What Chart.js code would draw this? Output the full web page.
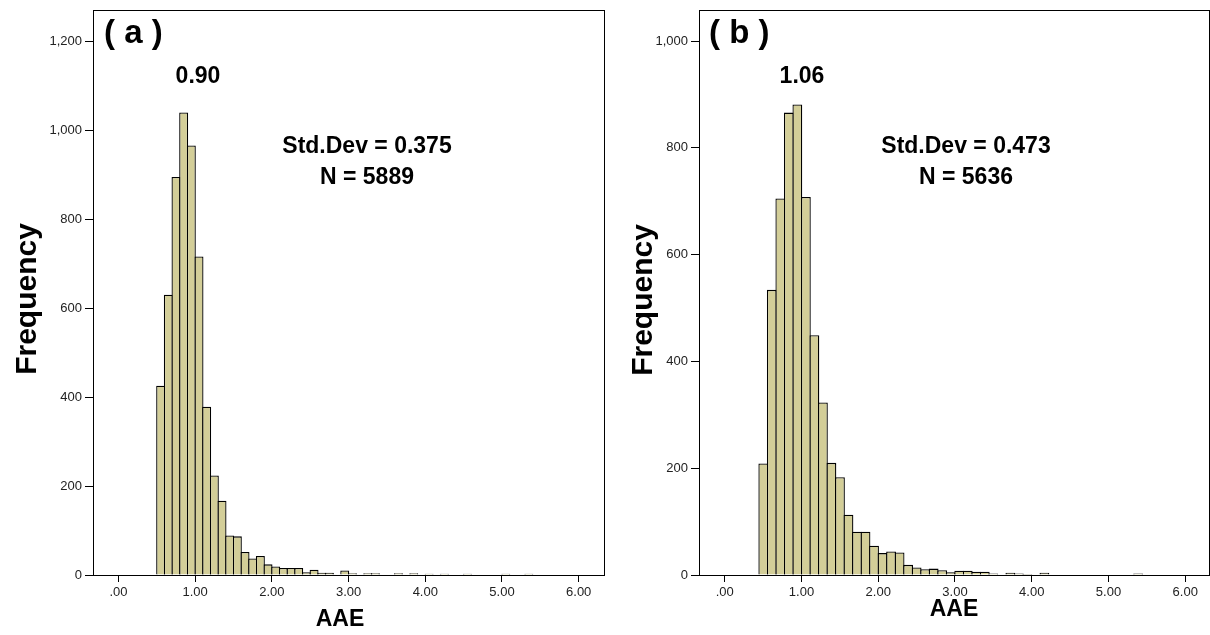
<!DOCTYPE html>
<html><head><meta charset="utf-8">
<script src="https://cdn.jsdelivr.net/npm/chart.js@4/dist/chart.umd.min.js"></script>
<style>
html,body{margin:0;padding:0;background:#fff;overflow:hidden}
.wrap{position:absolute;top:0;width:605px;height:635px}
#wa{left:0}#wb{left:605px}
</style></head><body>
<div class="wrap" id="wa"><canvas id="ca" width="605" height="635"></canvas></div>
<div class="wrap" id="wb"><canvas id="cb" width="605" height="635"></canvas></div>
<script>
// ---- data ----
const xTickValues = [0, 1, 2, 3, 4, 5, 6];
const xTickLabels = ['.00', '1.00', '2.00', '3.00', '4.00', '5.00', '6.00'];

const yTicksA = [0, 200, 400, 600, 800, 1000, 1200];
const yLabelsA = ['0', '200', '400', '600', '800', '1,000', '1,200'];
const yTicksB = [0, 200, 400, 600, 800, 1000];
const yLabelsB = ['0', '200', '400', '600', '800', '1,000'];

// histogram (a): bins of 0.1 starting at 0.50
const binStartA = 0.5, binWidthA = 0.1;
const freqA = [426, 631, 896, 1041, 967, 717, 379, 224, 167, 89,
               87, 52, 37, 43, 24, 19, 16, 16, 16, 6,
               12, 5, 5, 1, 10, 4, 1, 4, 4, 1,
               0, 4, 1, 4, 0, 3, 0, 3, 0, 0,
               3, 0, 0, 0, 0, 3, 0, 0, 3];
// histogram (b): bins of ~0.111 starting at 0.447
const binStartB = 0.447, binWidthB = 0.111;
const freqB = [209, 534, 705, 866, 881, 708, 449, 323, 210, 183,
               113, 81, 81, 55, 41, 44, 42, 19, 14, 11,
               12, 9, 5, 8, 8, 6, 6, 3, 0, 4,
               3, 2, 0, 4, 1, 1, 0, 0, 1, 0,
               0, 1, 0, 0, 3];

const panelLabels = ['( a )', '( b )'];
const meanLabels = ['0.90', '1.06'];
const sdLabels = ['Std.Dev = 0.375', 'Std.Dev = 0.473'];
const nLabels = ['N = 5889', 'N = 5636'];
const yTitle = 'Frequency';
const xTitle = 'AAE';

// ---- style ----
const FONT = "'Liberation Sans', Arial, Helvetica, sans-serif";
const BAR_FILL = 'rgb(211,206,152)';
const BAR_EDGE = '#000';

const framePlugin = {
  id: 'frame',
  afterDraw(chart) {
    const a = chart.chartArea, ctx = chart.ctx;
    const l = Math.round(a.left - 0.5) + 0.5, r = Math.round(a.right - 0.5) + 0.5;
    const t = Math.round(a.top - 0.5) + 0.5, b = Math.round(a.bottom - 0.5) + 0.5;
    ctx.save();
    ctx.strokeStyle = '#000'; ctx.lineWidth = 1;
    ctx.strokeRect(l, t, r - l, b - t);
    ctx.restore();
  }
};

const textPlugin = {
  id: 'panelText',
  afterDraw(chart, args, o) {
    const ctx = chart.ctx;
    ctx.save();
    ctx.fillStyle = '#000';
    ctx.textBaseline = 'middle';
    ctx.font = 'bold 33px ' + FONT;
    ctx.textAlign = 'left';
    ctx.fillText(o.panel, o.panelPos[0], o.panelPos[1]);
    ctx.font = 'bold 23px ' + FONT;
    ctx.textAlign = 'center';
    ctx.fillText(o.mean, o.meanPos[0], o.meanPos[1]);
    ctx.fillText(o.sd, o.sdPos[0], o.sdPos[1]);
    ctx.fillText(o.n, o.nPos[0], o.nPos[1]);
    ctx.font = 'bold 23px ' + FONT;
    ctx.fillText(xTitle, o.xTitlePos[0], o.xTitlePos[1]);
    ctx.font = 'bold 30px ' + FONT;
    ctx.translate(o.yTitlePos[0], o.yTitlePos[1]);
    ctx.rotate(-Math.PI / 2);
    ctx.fillText(yTitle, 0, 0);
    ctx.restore();
  }
};

function makeChart(id, cfg) {
  const areaRight = 604;
  const binPx = cfg.binWidth * (areaRight - cfg.areaLeft) / (cfg.xMax - cfg.xMin);
  const pts = cfg.freq.map((v, i) => ({ x: cfg.binStart + cfg.binWidth * (i + 0.5), y: v }));
  return new Chart(document.getElementById(id), {
    type: 'bar',
    data: {
      datasets: [{
        data: pts,
        backgroundColor: BAR_FILL,
        borderColor: BAR_EDGE,
        borderWidth: 1.3,
        barPercentage: (binPx + 1.3) / binPx,
        categoryPercentage: 1,
        grouped: false
      }]
    },
    options: {
      responsive: false,
      animation: false,
      devicePixelRatio: 1,
      layout: { padding: { top: 9, right: 1, left: 0, bottom: 0 } },
      plugins: { legend: { display: false }, tooltip: { enabled: false }, panelText: cfg.text },
      scales: {
        x: {
          type: 'linear', min: cfg.xMin, max: cfg.xMax, offset: false,
          afterFit: s => { s.height = 60; },
          afterBuildTicks: s => { s.ticks = xTickValues.map(v => ({ value: v })); },
          ticks: {
            callback: (v, i) => xTickLabels[i],
            font: { family: FONT, size: 13 }, color: '#222',
            padding: 3, maxRotation: 0, autoSkip: false
          },
          grid: { offset: false, drawOnChartArea: false, drawTicks: true, tickLength: 7, color: '#000', lineWidth: 1 },
          border: { display: true, color: '#000', width: 1 }
        },
        y: {
          type: 'linear', min: 0, max: cfg.yMax,
          afterFit: s => { s.width = cfg.areaLeft; },
          afterBuildTicks: s => { s.ticks = cfg.yTicks.map(v => ({ value: v })); },
          ticks: {
            callback: (v, i) => cfg.yLabels[i],
            font: { family: FONT, size: 13 }, color: '#222',
            padding: 3, autoSkip: false
          },
          grid: { drawOnChartArea: false, drawTicks: true, tickLength: 8, color: '#000', lineWidth: 1 },
          border: { display: true, color: '#000', width: 1 }
        }
      }
    },
    plugins: [framePlugin, textPlugin]
  });
}

makeChart('ca', {
  freq: freqA, binStart: binStartA, binWidth: binWidthA,
  yTicks: yTicksA, yLabels: yLabelsA, yMax: 1270,
  xMin: -0.332, xMax: 6.33, areaLeft: 93,
  text: {
    panel: panelLabels[0], panelPos: [104, 34],
    mean: meanLabels[0], meanPos: [198, 77],
    sd: sdLabels[0], sdPos: [367, 147],
    n: nLabels[0], nPos: [367, 178],
    xTitlePos: [340, 620], yTitlePos: [28, 299]
  }
});

makeChart('cb', {
  freq: freqB, binStart: binStartB, binWidth: binWidthB,
  yTicks: yTicksB, yLabels: yLabelsB, yMax: 1056.6,
  xMin: -0.335, xMax: 6.31, areaLeft: 94,
  text: {
    panel: panelLabels[1], panelPos: [104, 34],
    mean: meanLabels[1], meanPos: [197, 77],
    sd: sdLabels[1], sdPos: [361, 147],
    n: nLabels[1], nPos: [361, 178],
    xTitlePos: [349, 610], yTitlePos: [39, 300]
  }
});
</script>
</body></html>
